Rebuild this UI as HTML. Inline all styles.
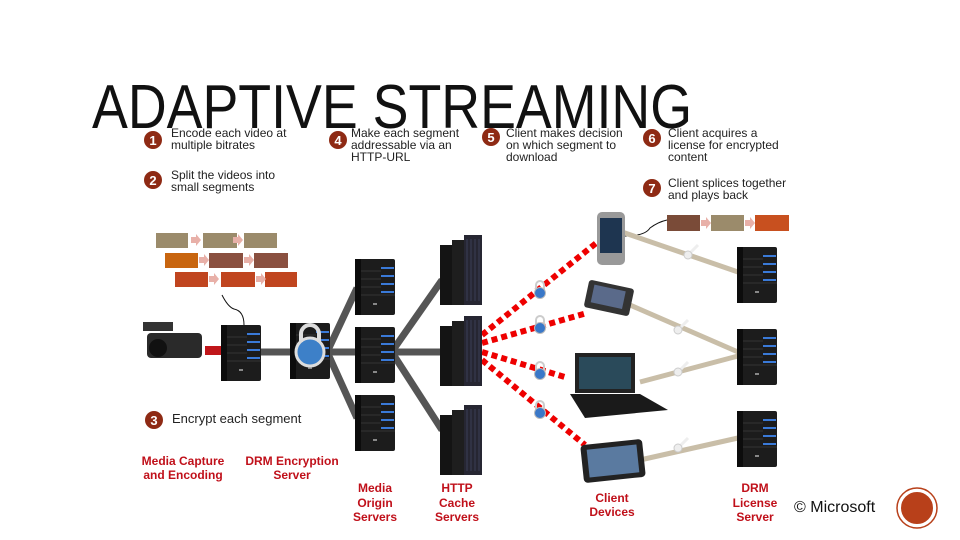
<!DOCTYPE html>
<html><head><meta charset="utf-8"><style>
body{margin:0;background:#fff;}
svg{display:block;font-family:"Liberation Sans",sans-serif;}
</style></head><body>
<svg width="960" height="540" viewBox="0 0 960 540" xmlns="http://www.w3.org/2000/svg">
<defs>
<g id="srv">
<rect x="0" y="0" width="40" height="56" rx="2" fill="#1c1c1c"/>
<rect x="0" y="0" width="6" height="56" fill="#0c0c0c"/>
<rect x="26" y="8" width="13" height="2" fill="#3a7ad8"/>
<rect x="26" y="16" width="13" height="2" fill="#3a7ad8"/>
<rect x="26" y="24" width="13" height="2" fill="#3a7ad8"/>
<rect x="26" y="32" width="13" height="2" fill="#3a7ad8"/>
<line x1="6" y1="12" x2="26" y2="12" stroke="#333"/>
<line x1="6" y1="20" x2="26" y2="20" stroke="#333"/>
<line x1="6" y1="28" x2="26" y2="28" stroke="#333"/>
<line x1="6" y1="36" x2="40" y2="36" stroke="#333"/>
<rect x="18" y="44" width="4" height="2" fill="#888"/>
</g>
<g id="tower">
<rect x="0" y="10" width="14" height="60" fill="#141414"/>
<rect x="12" y="5" width="14" height="65" fill="#1e1e1e"/>
<rect x="24" y="0" width="18" height="70" fill="#262632"/>
<path d="M27 4v62M31 4v62M35 4v62M39 4v62" stroke="#3b3f55" stroke-width="1"/>
</g>
<g id="lock">
<path d="M-4 -3v-5a4 4 0 0 1 8 0v5" fill="none" stroke="#ccc" stroke-width="2"/>
<circle r="5.5" fill="#3a78c8" stroke="#bbb"/>
</g>
<g id="key">
<line x1="0" y1="0" x2="10" y2="-10" stroke="#eee" stroke-width="3"/>
<circle r="4" fill="#eee" stroke="#ccc"/>
</g>
<g id="num">
<circle r="9" fill="#8e2a14"/>
</g>
<polygon id="arr" points="0,-3 5,-3 5,-6 10,0 5,6 5,3 0,3" fill="#e8b0a8"/>
</defs>

<text x="92" y="128" font-size="62" textLength="600" lengthAdjust="spacingAndGlyphs" fill="#111">ADAPTIVE STREAMING</text>

<g font-size="12" fill="#222">
<g transform="translate(153,140)"><use href="#num"/><text y="5" text-anchor="middle" fill="#fff" font-weight="bold" font-size="13">1</text></g>
<text x="171" y="137">Encode each video at</text><text x="171" y="149">multiple bitrates</text>
<g transform="translate(153,180)"><use href="#num"/><text y="5" text-anchor="middle" fill="#fff" font-weight="bold" font-size="13">2</text></g>
<text x="171" y="179">Split the videos into</text><text x="171" y="191">small segments</text>
<g transform="translate(338,140)"><use href="#num"/><text y="5" text-anchor="middle" fill="#fff" font-weight="bold" font-size="13">4</text></g>
<text x="351" y="137">Make each segment</text><text x="351" y="149">addressable via an</text><text x="351" y="161">HTTP-URL</text>
<g transform="translate(491,137)"><use href="#num"/><text y="5" text-anchor="middle" fill="#fff" font-weight="bold" font-size="13">5</text></g>
<text x="506" y="137">Client makes decision</text><text x="506" y="149">on which segment to</text><text x="506" y="161">download</text>
<g transform="translate(652,138)"><use href="#num"/><text y="5" text-anchor="middle" fill="#fff" font-weight="bold" font-size="13">6</text></g>
<text x="668" y="137">Client acquires a</text><text x="668" y="149">license for encrypted</text><text x="668" y="161">content</text>
<g transform="translate(652,188)"><use href="#num"/><text y="5" text-anchor="middle" fill="#fff" font-weight="bold" font-size="13">7</text></g>
<text x="668" y="187">Client splices together</text><text x="668" y="199">and plays back</text>
<g transform="translate(154,420)"><use href="#num"/><text y="5" text-anchor="middle" fill="#fff" font-weight="bold" font-size="13">3</text></g>
<text x="172" y="423" font-size="13">Encrypt each segment</text>
</g>

<!-- segment boxes -->
<g>
<rect x="156" y="233" width="32" height="15" fill="#9b8b6b"/><rect x="203" y="233" width="34" height="15" fill="#9b8b6b"/><rect x="244" y="233" width="33" height="15" fill="#9b8b6b"/>
<rect x="165" y="253" width="33" height="15" fill="#c8650f"/><rect x="209" y="253" width="34" height="15" fill="#8a5040"/><rect x="254" y="253" width="34" height="15" fill="#8a5040"/>
<rect x="175" y="272" width="33" height="15" fill="#c0451f"/><rect x="221" y="272" width="34" height="15" fill="#c0451f"/><rect x="265" y="272" width="32" height="15" fill="#c0451f"/>
<rect x="667" y="215" width="33" height="16" fill="#7a4b38"/><rect x="711" y="215" width="33" height="16" fill="#9b8b6b"/><rect x="755" y="215" width="34" height="16" fill="#c8501f"/>
<use href="#arr" x="191" y="240"/><use href="#arr" x="233" y="240"/>
<use href="#arr" x="199" y="260"/><use href="#arr" x="244" y="260"/>
<use href="#arr" x="209" y="279"/><use href="#arr" x="256" y="279"/>
<use href="#arr" x="701" y="223"/><use href="#arr" x="745" y="223"/>
</g>
<path d="M222 295 q6 12 12 14 q10 2 10 16" fill="none" stroke="#111"/>
<path d="M625 236 q20 0 25 -8 q8 -6 17 -8" fill="none" stroke="#111"/>

<!-- gray lines -->
<g stroke="#555" stroke-width="7">
<line x1="258" y1="352" x2="292" y2="352"/>
<line x1="328" y1="350" x2="357" y2="288"/><line x1="328" y1="352" x2="357" y2="352"/><line x1="328" y1="354" x2="357" y2="418"/>
<line x1="393" y1="350" x2="442" y2="280"/><line x1="393" y1="352" x2="442" y2="352"/><line x1="393" y1="354" x2="442" y2="430"/>
</g>
<!-- beige lines -->
<g stroke="#c9bea8" stroke-width="5">
<line x1="622" y1="232" x2="738" y2="272"/>
<line x1="630" y1="305" x2="738" y2="352"/>
<line x1="640" y1="382" x2="738" y2="356"/>
<line x1="640" y1="460" x2="738" y2="438"/>
</g>
<use href="#key" x="688" y="255"/><use href="#key" x="678" y="330"/><use href="#key" x="678" y="372"/><use href="#key" x="678" y="448"/>

<!-- red dotted -->
<g stroke="#e00" stroke-width="6" stroke-dasharray="6 4" fill="none">
<line x1="482" y1="335" x2="600" y2="240"/>
<line x1="482" y1="343" x2="587" y2="313"/>
<line x1="482" y1="352" x2="568" y2="378"/>
<line x1="482" y1="360" x2="585" y2="445"/>
</g>
<use href="#lock" x="540" y="293"/><use href="#lock" x="540" y="328"/><use href="#lock" x="540" y="374"/><use href="#lock" x="540" y="413"/>

<!-- camera -->
<rect x="205" y="346" width="18" height="9" fill="#c0161a"/>
<rect x="147" y="333" width="55" height="25" rx="4" fill="#2a2a2a"/>
<rect x="143" y="322" width="30" height="9" fill="#333"/>
<circle cx="158" cy="348" r="9" fill="#111"/>

<!-- servers -->
<use href="#srv" x="221" y="325"/>
<use href="#srv" x="290" y="323"/>
<circle cx="310" cy="352" r="14" fill="#3d80c8" stroke="#ddd" stroke-width="3"/>
<path d="M301 342v-8a9 9 0 0 1 18 0v8" fill="none" stroke="#ddd" stroke-width="4"/>
<use href="#srv" x="355" y="259"/><use href="#srv" x="355" y="327"/><use href="#srv" x="355" y="395"/>
<use href="#tower" x="440" y="235"/><use href="#tower" x="440" y="316"/><use href="#tower" x="440" y="405"/>
<use href="#srv" x="737" y="247"/><use href="#srv" x="737" y="329"/><use href="#srv" x="737" y="411"/>

<!-- devices -->
<rect x="597" y="212" width="28" height="53" rx="5" fill="#999"/><rect x="600" y="218" width="22" height="35" fill="#1e3550"/>
<rect x="586" y="284" width="46" height="28" rx="3" fill="#333" transform="rotate(12 609 298)"/><rect x="592" y="288" width="32" height="18" fill="#5a6a8a" transform="rotate(12 609 298)"/>
<rect x="575" y="353" width="60" height="40" fill="#222"/><rect x="579" y="357" width="52" height="32" fill="#2a4a5a"/>
<polygon points="570,394 640,394 668,410 585,418" fill="#1a1a1a"/>
<rect x="582" y="442" width="62" height="38" rx="4" fill="#222" transform="rotate(-6 613 461)"/><rect x="588" y="447" width="50" height="28" fill="#5a7aa0" transform="rotate(-6 613 461)"/>

<!-- labels -->
<g fill="#c0101a" font-weight="bold" font-size="12" text-anchor="middle">
<text x="183" y="465">Media Capture</text><text x="183" y="479">and Encoding</text>
<text x="292" y="465">DRM Encryption</text><text x="292" y="479">Server</text>
<text x="375" y="492">Media</text><text x="375" y="507">Origin</text><text x="375" y="521">Servers</text>
<text x="457" y="492">HTTP</text><text x="457" y="507">Cache</text><text x="457" y="521">Servers</text>
<text x="612" y="502">Client</text><text x="612" y="516">Devices</text>
<text x="755" y="492">DRM</text><text x="755" y="507">License</text><text x="755" y="521">Server</text>
</g>
<text x="794" y="512" font-size="16" fill="#111">© Microsoft</text>
<circle cx="917" cy="508" r="17" fill="#b8401a" stroke="#fff" stroke-width="2"/>
<circle cx="917" cy="508" r="20" fill="none" stroke="#b8401a" stroke-width="1.5"/>
</svg>
</body></html>
